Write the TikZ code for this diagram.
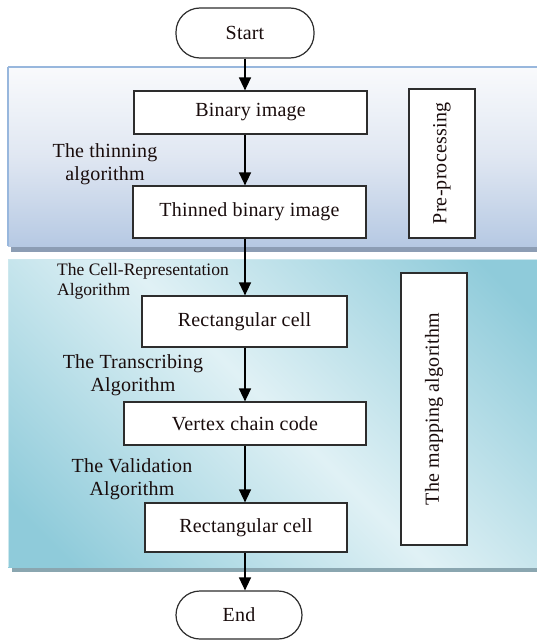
\documentclass[tikz,border=0pt]{standalone}
\usepackage{fontspec}
\setmainfont[LetterSpace=1]{Liberation Serif}
\newfontfamily\tightfont{Liberation Serif}
\usetikzlibrary{arrows.meta,calc}
\definecolor{txt}{RGB}{25,12,12}
\definecolor{ubtop}{RGB}{249,250,252}
\definecolor{ubmid}{RGB}{224,231,242}
\definecolor{ubbot}{RGB}{182,201,227}
\definecolor{ubline}{RGB}{152,183,221}
\definecolor{ubshadow}{RGB}{140,157,180}
\definecolor{lbdark}{RGB}{143,203,218}
\definecolor{lblight}{RGB}{224,241,245}
\definecolor{lbline}{RGB}{205,232,238}
\definecolor{lbshadow}{RGB}{138,166,176}
\definecolor{boxline}{RGB}{45,45,45}
\pgfdeclarehorizontalshading{lowband}{100bp}{color(0bp)=(lbdark); color(20bp)=(lbdark); color(50bp)=(lblight); color(80bp)=(lbdark); color(100bp)=(lbdark)}
\tikzset{
  box/.style={draw=boxline, line width=1.2pt, fill=white, text=txt, inner sep=0pt,
    font=\fontsize{20}{22}\selectfont},
  term/.style={box, rounded corners=24pt},
  lbl/.style={text=txt, align=center, inner sep=0pt, font=\fontsize{20}{23.5}\selectfont},
  arr/.style={line width=1.4pt, black, -{Triangle[width=12pt,length=13pt]}}
}
\begin{document}
\begin{tikzpicture}[x=1pt,y=-1pt]
\clip (0,0) rectangle (537,642);
\fill[white] (0,0) rectangle (537,642);
% upper band
\fill[ubshadow] (11,71) rectangle (548,252);
\shade[top color=ubtop, bottom color=ubbot, middle color=ubmid] (8,67) rectangle (545,246);
\draw[ubline, line width=1.8pt] (8,67) -- (545,67) (8,67) -- (8,246);
% lower band
\fill[lbshadow] (12,263) rectangle (549,572);
\fill[shading=lowband, shading angle=45] (8,259) rectangle (545,567);
\draw[lbline, line width=1pt] (8,567) -- (8,259) -- (545,259);
% nodes
\node[term, minimum width=138pt, minimum height=50pt] (start) at (245,33) {Start};
\node[box, minimum width=233pt, minimum height=43pt] (bin) at (250.5,112.5) {Binary image};
\node[box, minimum width=233pt, minimum height=52pt] (thin) at (249.5,212) {Thinned binary image};
\node[box, rotate=90, minimum width=149pt, minimum height=66pt] (pre) at (442,163.5) {Pre-processing};
\node[box, minimum width=205pt, minimum height=51pt] (rc1) at (244.5,321.5) {Rectangular cell};
\node[box, minimum width=242pt, minimum height=43pt] (vcc) at (245,423.5) {Vertex chain code};
\node[box, minimum width=202pt, minimum height=49pt] (rc2) at (246,527.5) {Rectangular cell};
\node[box, rotate=90, minimum width=272pt, minimum height=66pt] (map) at (434,409) {The mapping algorithm};
\node[term, minimum width=126pt, minimum height=48pt] (end) at (239,615) {End};
% labels
\node[lbl] (l1) at (105,164) {The thinning\\algorithm};
\node[lbl, align=left, anchor=north west, font=\tightfont\fontsize{17.5}{20}\selectfont] (l2) at (57,263) {The Cell-Representation\\Algorithm};
\node[lbl] (l3) at (133,375) {The Transcribing\\Algorithm};
\node[lbl] (l4) at (132,479) {The Validation\\Algorithm};
% connectors
\draw[arr] (start.south) -- (start.south |- bin.north);
\draw[arr] (bin.south -| start) -- (thin.north -| start);
\draw[arr] (thin.south -| start) -- (rc1.north -| start);
\draw[arr] (rc1.south -| start) -- (vcc.north -| start);
\draw[arr] (vcc.south -| start) -- (rc2.north -| start);
\draw[arr] (rc2.south -| start) -- (end.north -| start);
\end{tikzpicture}
\end{document}
